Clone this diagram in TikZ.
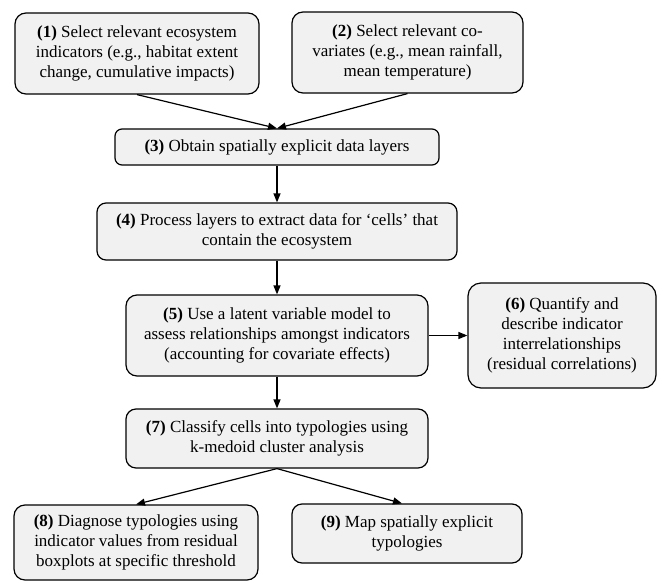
\documentclass[tikz,border=0pt]{standalone}
\usepackage{fontspec}
\setmainfont{Liberation Serif}
\usetikzlibrary{arrows.meta}
\definecolor{boxfill}{HTML}{F1F1F1}
\tikzset{
  stepbox/.style={draw=black, line width=1.2pt, fill=boxfill, rounded corners=11pt,
    align=center, inner sep=0pt, font=\fontsize{17}{20}\selectfont},
  conn/.style={line width=1.2pt, -{Triangle[length=9pt,width=7pt]}}
}
\begin{document}
\begin{tikzpicture}[x=1pt,y=-1pt]
\useasboundingbox (0,0) rectangle (659,581);
\node[stepbox, minimum width=244pt, minimum height=81pt] (b1) at (137,53.5)
  {\textbf{(1)} Select relevant ecosystem\\indicators (e.g., habitat extent\\change, cumulative impacts)};
\node[stepbox, minimum width=231pt, minimum height=81pt] (b2) at (407.5,52.5)
  {\textbf{(2)} Select relevant co-\\variates (e.g., mean rainfall,\\mean temperature)};
\node[stepbox, rounded corners=7pt, minimum width=324pt, minimum height=36pt] (b3) at (277,147)
  {\textbf{(3)} Obtain spatially explicit data layers};
\node[stepbox, rounded corners=9pt, minimum width=360pt, minimum height=57pt] (b4) at (277,231.5)
  {\textbf{(4)} Process layers to extract data for ‘cells’ that\\contain the ecosystem};
\node[stepbox, minimum width=302pt, minimum height=81pt] (b5) at (277,335.5)
  {\textbf{(5)} Use a latent variable model to\\assess relationships amongst indicators\\(accounting for covariate effects)};
\node[stepbox, rounded corners=13pt, minimum width=188pt, minimum height=105pt] (b6) at (562,335.5)
  {\textbf{(6)} Quantify and\\describe indicator\\interrelationships\\(residual correlations)};
\node[stepbox, rounded corners=10pt, minimum width=302pt, minimum height=59pt] (b7) at (277,438.5)
  {\textbf{(7)} Classify cells into typologies using\\k-medoid cluster analysis};
\node[stepbox, minimum width=244pt, minimum height=75pt] (b8) at (136,542.5)
  {\textbf{(8)} Diagnose typologies using\\indicator values from residual\\boxplots at specific threshold};
\node[stepbox, rounded corners=10pt, minimum width=230pt, minimum height=59pt] (b9) at (407,533.5)
  {\textbf{(9)} Map spatially explicit\\typologies};
\draw[conn] (b1.south) -- (b3.north);
\draw[conn] (b2.south) -- (b3.north);
\draw[conn] (b3.south) -- (b4.north);
\draw[conn] (b4.south) -- (b5.north);
\draw[conn] (b5.east) -- (b6.west);
\draw[conn] (b5.south) -- (b7.north);
\draw[conn] (b7.south) -- (b8.north);
\draw[conn] (b7.south) -- ([xshift=-5pt]b9.north);
\end{tikzpicture}
\end{document}
